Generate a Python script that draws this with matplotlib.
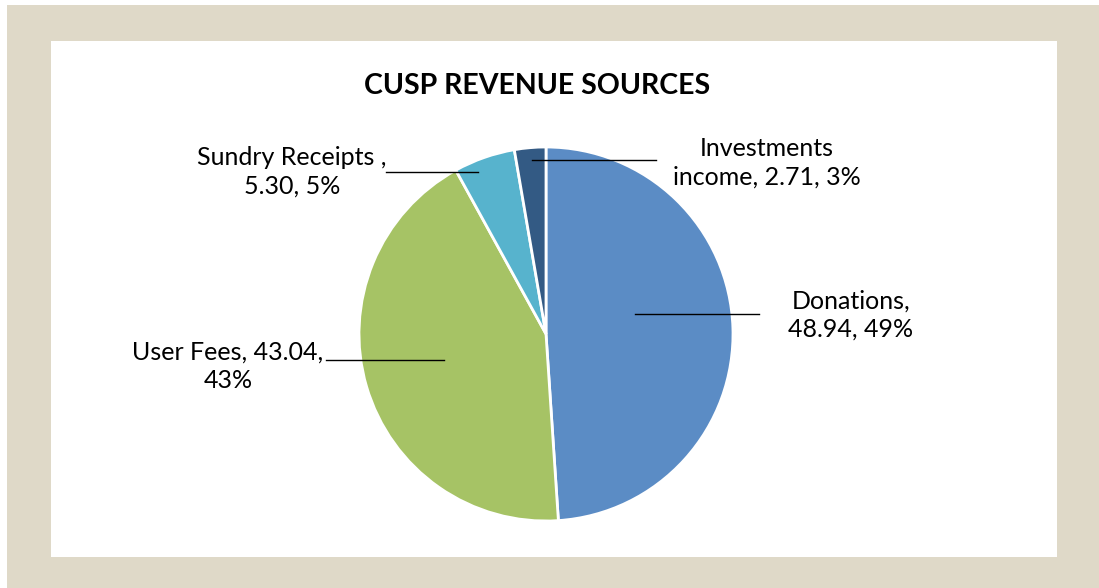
import matplotlib
matplotlib.use("Agg")
import matplotlib.pyplot as plt
from matplotlib.patches import Rectangle
from matplotlib.lines import Line2D

categories = ["Donations", "User Fees", "Sundry Receipts", "Investments income"]
values = [48.94, 43.04, 5.30, 2.71]
labels = ["Donations,\n48.94, 49%", "User Fees, 43.04,\n43%", "Sundry Receipts ,\n5.30, 5%", "Investments\nincome, 2.71, 3%"]
colors = ["#5b8cc5", "#a6c365", "#57b3cd", "#335a84"]
title = "CUSP REVENUE SOURCES"

W, H = 1099, 588
fig = plt.figure(figsize=(W / 100, H / 100), dpi=100)
fig.patch.set_facecolor("white")
plt.rcParams['font.family'] = ['Lato', 'DejaVu Sans']

def fx(x):
    return x / W

def fy(y):
    return 1 - y / H

# backgrounds
fig.patches.append(Rectangle((fx(7), 0), 1 - fx(7), fy(5), transform=fig.transFigure,
                             facecolor="#dfd9c8", edgecolor="none", zorder=-2))
fig.patches.append(Rectangle((fx(51), fy(557)), fx(1057 - 51), (557 - 41) / H,
                             transform=fig.transFigure, facecolor="white", edgecolor="none", zorder=-1))

# pie
cx, cy, r = 546, 334, 187
ax = fig.add_axes([fx(cx - r), fy(cy + r), 2 * r / W, 2 * r / H])
ax.set_zorder(2)
ax.pie(values, colors=colors, startangle=90, counterclock=False,
       wedgeprops=dict(edgecolor="white", linewidth=2))
ax.set_xlim(-1, 1)
ax.set_ylim(-1, 1)
ax.set_aspect("auto")
ax.axis("off")

fig.text(fx(537), fy(86), title, ha="center", va="center", fontsize=20.5, fontweight="bold", color="black")

# labels
label_pos = [(851, 315), (228, 366), (292, 172), (767, 163)]
for lab, (x, y) in zip(labels, label_pos):
    fig.text(fx(x), fy(y), lab, ha="center", va="center", fontsize=18, color="black",
             linespacing=1.28)

# leader lines
leaders = [((635, 759), 314), ((326, 444), 360), ((386, 478), 172), ((532, 656), 160)]
for (x0, x1), y in leaders:
    fig.add_artist(Line2D([fx(x0), fx(x1)], [fy(y), fy(y)], transform=fig.transFigure,
                          color="black", linewidth=1.0, zorder=5))

fig.savefig("out.png", dpi=100)
